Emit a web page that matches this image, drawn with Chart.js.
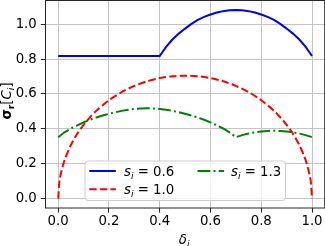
<!DOCTYPE html>
<html><head><meta charset="utf-8">
<script src="https://cdn.jsdelivr.net/npm/chart.js@4"></script>
<style>html,body{margin:0;padding:0;background:#fff;overflow:hidden}</style>
</head><body>
<canvas id="c" width="325" height="246" style="width:325px;height:246px;display:block"></canvas>
<script>
const xTicks = [0, 0.2, 0.4, 0.6, 0.8, 1.0];
const yTicks = [0, 0.2, 0.4, 0.6, 0.8, 1.0];
const seriesNames = ['0.6', '1.0', '1.3'];

const deltaBlue = [0, 0.4, 0.425, 0.45, 0.475, 0.5, 0.525, 0.55, 0.575, 0.6, 0.625, 0.65, 0.675, 0.7, 0.725, 0.75, 0.775, 0.8, 0.825, 0.85, 0.875, 0.9, 0.925, 0.95, 0.975, 1.0];
const sigmaBlue = [0.818, 0.818, 0.870, 0.912, 0.946, 0.975, 1.002, 1.025, 1.042, 1.056, 1.067, 1.075, 1.080, 1.082, 1.080, 1.075, 1.067, 1.056, 1.042, 1.025, 1.002, 0.975, 0.946, 0.912, 0.870, 0.818];

const deltaRed = [0, 0.005, 0.01, 0.02, 0.03, 0.05, 0.075, 0.1, 0.125, 0.15, 0.2, 0.25, 0.3, 0.35, 0.4, 0.45, 0.5, 0.55, 0.6, 0.65, 0.7, 0.75, 0.8, 0.85, 0.875, 0.9, 0.925, 0.95, 0.97, 0.98, 0.99, 0.995, 1.0];
const sigmaRed = [0, 0.10, 0.14, 0.197, 0.24, 0.307, 0.372, 0.423, 0.466, 0.504, 0.564, 0.611, 0.646, 0.673, 0.691, 0.702, 0.705, 0.702, 0.691, 0.673, 0.646, 0.611, 0.564, 0.504, 0.466, 0.423, 0.372, 0.307, 0.24, 0.197, 0.14, 0.10, 0];

const deltaGreen = [0, 0.025, 0.05, 0.075, 0.1, 0.125, 0.15, 0.175, 0.2, 0.225, 0.25, 0.275, 0.3, 0.325, 0.35, 0.375, 0.4, 0.425, 0.45, 0.475, 0.5, 0.525, 0.55, 0.575, 0.6, 0.625, 0.65, 0.675, 0.7, 0.725, 0.75, 0.775, 0.8, 0.825, 0.85, 0.875, 0.9, 0.925, 0.95, 0.975, 1.0];
const sigmaGreen = [0.352, 0.380, 0.402, 0.420, 0.437, 0.452, 0.465, 0.476, 0.486, 0.495, 0.503, 0.509, 0.514, 0.517, 0.518, 0.517, 0.514, 0.509, 0.503, 0.495, 0.486, 0.476, 0.465, 0.452, 0.437, 0.420, 0.402, 0.380, 0.352, 0.364, 0.373, 0.380, 0.385, 0.388, 0.389, 0.388, 0.385, 0.380, 0.373, 0.364, 0.352];

const pts = (xs, ys) => xs.map((x, i) => ({x: x, y: ys[i]}));
const FONT = '"DejaVu Sans"';
const FS = 13.3;

function drawSLabel(ctx, x, y, val) {
  ctx.textAlign = 'left'; ctx.textBaseline = 'alphabetic'; ctx.fillStyle = '#000';
  ctx.font = 'italic ' + FS + 'px ' + FONT;
  ctx.fillText('s', x, y);
  let w = ctx.measureText('s').width;
  ctx.font = 'italic ' + (FS * 0.7) + 'px ' + FONT;
  ctx.fillText('i', x + w, y + 3);
  w += ctx.measureText('i').width;
  ctx.font = FS + 'px ' + FONT;
  ctx.fillText(' = ' + val, x + w, y);
}

const decor = {
  id: 'decor',
  afterDraw(chart) {
    const ctx = chart.ctx, a = chart.chartArea;
    ctx.save();
    ctx.strokeStyle = '#262626'; ctx.lineWidth = 1;
    ctx.strokeRect(a.left, a.top, a.right - a.left, a.bottom - a.top);
    ctx.fillStyle = '#000'; ctx.textBaseline = 'alphabetic'; ctx.textAlign = 'left';
    ctx.font = 'italic ' + FS + 'px ' + FONT;
    const wd = ctx.measureText('δ').width;
    ctx.font = 'italic ' + (FS * 0.7) + 'px ' + FONT;
    const wi = ctx.measureText('i').width;
    const xc = (a.left + a.right) / 2 - 1;
    const x0 = xc - (wd + wi) / 2;
    ctx.font = 'italic ' + FS + 'px ' + FONT;
    ctx.fillText('δ', x0, 243.5);
    ctx.font = 'italic ' + (FS * 0.7) + 'px ' + FONT;
    ctx.fillText('i', x0 + wd, 246.5);
    ctx.save();
    ctx.translate(10.5, 101);
    ctx.rotate(-Math.PI / 2);
    const parts = [
      ['bold ' + FS + 'px ' + FONT, 'σ', 0],
      ['bold ' + (FS * 0.7) + 'px ' + FONT, 'r', 3],
      [FS + 'px ' + FONT, '[', 0],
      ['italic ' + FS + 'px ' + FONT, 'C', 0],
      ['italic ' + (FS * 0.7) + 'px ' + FONT, 'i', 3],
      [FS + 'px ' + FONT, ']', 0]
    ];
    let tw = 0;
    parts.forEach(p => { ctx.font = p[0]; tw += ctx.measureText(p[1]).width; });
    let px = -tw / 2;
    parts.forEach(p => { ctx.font = p[0]; ctx.fillText(p[1], px, p[2]); px += ctx.measureText(p[1]).width; });
    ctx.restore();
    const lx = 85, ly = 161, lw = 200.5, lh = 39.5, r = 3;
    ctx.beginPath();
    ctx.moveTo(lx + r, ly);
    ctx.arcTo(lx + lw, ly, lx + lw, ly + lh, r);
    ctx.arcTo(lx + lw, ly + lh, lx, ly + lh, r);
    ctx.arcTo(lx, ly + lh, lx, ly, r);
    ctx.arcTo(lx, ly, lx + lw, ly, r);
    ctx.closePath();
    ctx.fillStyle = 'rgba(255,255,255,0.8)'; ctx.fill();
    ctx.strokeStyle = '#cccccc'; ctx.lineWidth = 1; ctx.stroke();
    const items = [
      {ds: 0, hx: 89.3, tx: 124, y: 171},
      {ds: 1, hx: 89.3, tx: 124, y: 189.3},
      {ds: 2, hx: 197.5, tx: 231, y: 171}
    ];
    items.forEach(it => {
      const d = chart.data.datasets[it.ds];
      ctx.beginPath();
      ctx.setLineDash(d.borderDash || []);
      ctx.strokeStyle = d.borderColor; ctx.lineWidth = d.borderWidth; ctx.lineCap = 'butt';
      ctx.moveTo(it.hx, it.y); ctx.lineTo(it.hx + 26.6, it.y); ctx.stroke();
      ctx.setLineDash([]);
      drawSLabel(ctx, it.tx, it.y + 4.8, seriesNames[it.ds]);
    });
    ctx.restore();
  }
};

const tickFont = {family: 'DejaVu Sans', size: FS};
new Chart(document.getElementById('c'), {
  type: 'line',
  data: {
    datasets: [
      {label: 's_i = ' + seriesNames[0], data: pts(deltaBlue, sigmaBlue), borderColor: '#0000ff', borderWidth: 2, pointRadius: 0, tension: 0, fill: false},
      {label: 's_i = ' + seriesNames[1], data: pts(deltaRed, sigmaRed), borderColor: '#ff0000', borderWidth: 2, borderDash: [7.4, 3.2], pointRadius: 0, tension: 0.3, fill: false},
      {label: 's_i = ' + seriesNames[2], data: pts(deltaGreen, sigmaGreen), borderColor: '#008000', borderWidth: 2, borderDash: [12.8, 3.2, 2, 3.2], pointRadius: 0, tension: 0, fill: false}
    ]
  },
  options: {
    responsive: false, animation: false, devicePixelRatio: 1,
    layout: {padding: {left: 0, right: 0.3, top: 0.5, bottom: 0}},
    plugins: {legend: {display: false}, tooltip: {enabled: false}},
    scales: {
      x: {
        type: 'linear', min: -0.05, max: 1.05,
        afterBuildTicks: s => { s.ticks = xTicks.map(v => ({value: v})); },
        afterFit: s => { s.height = 38; s.paddingLeft = 0; s.paddingRight = 0; },
        ticks: {font: tickFont, color: '#000', padding: 1, maxRotation: 0, callback: v => Number(v).toFixed(1)},
        grid: {color: '#c4c4c4', lineWidth: 1, tickLength: 4.7, tickColor: '#262626'},
        border: {display: false}
      },
      y: {
        type: 'linear', min: -0.054, max: 1.136,
        afterBuildTicks: s => { s.ticks = yTicks.map(v => ({value: v})); },
        afterFit: s => { s.width = 45.5; s.paddingTop = 0; s.paddingBottom = 0; },
        ticks: {font: tickFont, color: '#000', padding: 4, callback: v => Number(v).toFixed(1)},
        grid: {color: '#c4c4c4', lineWidth: 1, tickLength: 4.7, tickColor: '#262626'},
        border: {display: false}
      }
    }
  },
  plugins: [decor]
});
</script>
</body></html>
